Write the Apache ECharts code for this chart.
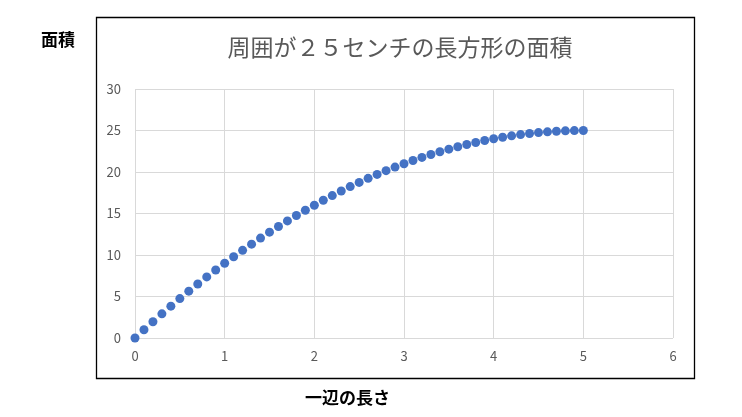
<!DOCTYPE html>
<html><head><meta charset="utf-8">
<script src="https://cdn.jsdelivr.net/npm/echarts@6/dist/echarts.min.js"></script>
<style>html,body{margin:0;padding:0;background:#fff}#c{width:742px;height:417px}</style>
</head><body><div id="c"></div>
<script>
const sideLengths = [0,0.1,0.2,0.3,0.4,0.5,0.6,0.7,0.8,0.9,1,1.1,1.2,1.3,1.4,1.5,1.6,1.7,1.8,1.9,2,2.1,2.2,2.3,2.4,2.5,2.6,2.7,2.8,2.9,3,3.1,3.2,3.3,3.4,3.5,3.6,3.7,3.8,3.9,4,4.1,4.2,4.3,4.4,4.5,4.6,4.7,4.8,4.9,5];
const areas = [0,0.99,1.96,2.91,3.84,4.75,5.64,6.51,7.36,8.19,9,9.79,10.56,11.31,12.04,12.75,13.44,14.11,14.76,15.39,16,16.59,17.16,17.71,18.24,18.75,19.24,19.71,20.16,20.59,21,21.39,21.76,22.11,22.44,22.75,23.04,23.31,23.56,23.79,24,24.19,24.36,24.51,24.64,24.75,24.84,24.91,24.96,24.99,25];
const titleText = '周囲が２５センチの長方形の面積';
const yName = '面積';
const xName = '一辺の長さ';

const font = '"Noto Sans CJK JP", "Noto Sans", sans-serif';
const chart = echarts.init(document.getElementById('c'));
chart.setOption({
  animation: false,
  title: { text: titleText, left: 395, top: 31, textAlign: 'center',
    textStyle: { color: '#595959', fontSize: 23, fontWeight: 'normal', fontFamily: font } },
  graphic: [
    { type: 'rect', shape: { x: 96.5, y: 17.5, width: 598, height: 361 },
      style: { fill: 'none', stroke: '#000', lineWidth: 1.3 }, z: -1 },
    { type: 'text', left: 41, top: 31, style: { text: yName, fill: '#000', font: 'bold 17px ' + font } },
    { type: 'text', left: 305, top: 389, style: { text: xName, fill: '#000', font: 'bold 17px ' + font } }
  ],
  grid: { left: 135, right: 69, top: 89, bottom: 79 },
  xAxis: { type: 'value', min: 0, max: 6, interval: 1,
    axisLine: { show: false }, axisTick: { show: false },
    axisLabel: { color: '#595959', fontSize: 13, margin: 12, fontFamily: font },
    splitLine: { lineStyle: { color: '#d9d9d9' } } },
  yAxis: { type: 'value', min: 0, max: 30, interval: 5,
    axisLine: { show: false }, axisTick: { show: false },
    axisLabel: { color: '#595959', fontSize: 13, margin: 14, fontFamily: font },
    splitLine: { lineStyle: { color: '#d9d9d9' } } },
  series: [{ type: 'scatter', symbolSize: 9,
    itemStyle: { color: '#4472c4', opacity: 1 },
    data: sideLengths.map((x, i) => [x, areas[i]]) }]
});
</script></body></html>
